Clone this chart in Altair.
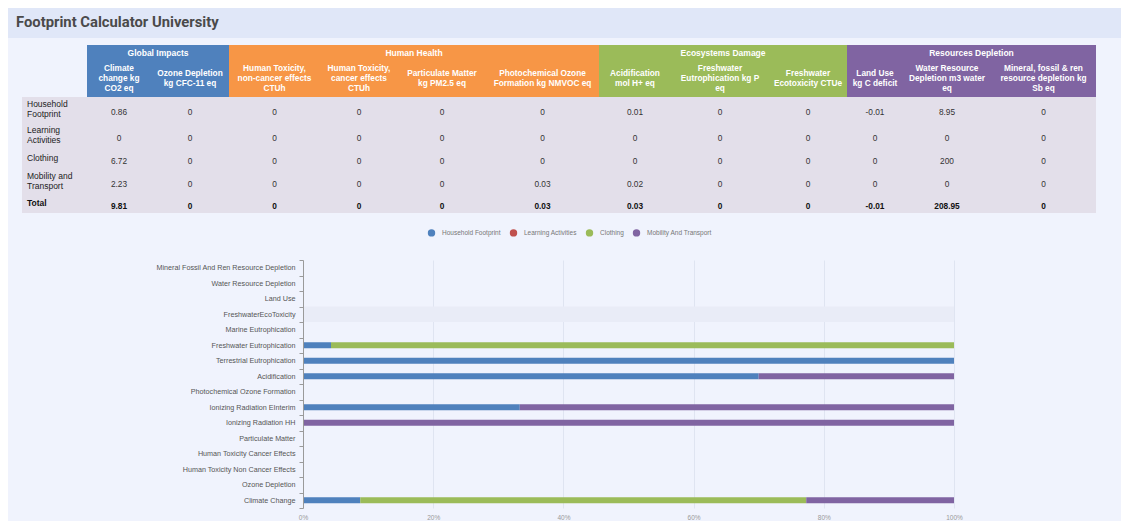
import altair as alt
import pandas as pd

# ---------------- data ----------------
title_text = "Footprint Calculator University"

groups = ["Global Impacts", "Human Health", "Ecosystems Damage", "Resources Depletion"]
group_spans = [2, 4, 3, 3]
group_colors = ["#4f81bd", "#f79646", "#9bbb59", "#8064a2"]

indicators = [
    "Climate\nchange kg\nCO2 eq",
    "Ozone Depletion\nkg CFC-11 eq",
    "Human Toxicity,\nnon-cancer effects\nCTUh",
    "Human Toxicity,\ncancer effects\nCTUh",
    "Particulate Matter\nkg PM2.5 eq",
    "Photochemical Ozone\nFormation kg NMVOC eq",
    "Acidification\nmol H+ eq",
    "Freshwater\nEutrophication kg P\neq",
    "Freshwater\nEcotoxicity CTUe",
    "Land Use\nkg C deficit",
    "Water Resource\nDepletion m3 water\neq",
    "Mineral, fossil & ren\nresource depletion kg\nSb eq",
]

row_labels = ["Household\nFootprint", "Learning\nActivities", "Clothing", "Mobility and\nTransport", "Total"]

household = [0.86, 0, 0, 0, 0, 0, 0.01, 0, 0, -0.01, 8.95, 0]
learning = [0, 0, 0, 0, 0, 0, 0, 0, 0, 0, 0, 0]
clothing = [6.72, 0, 0, 0, 0, 0, 0, 0, 0, 0, 200, 0]
mobility = [2.23, 0, 0, 0, 0, 0.03, 0.02, 0, 0, 0, 0, 0]
total = [9.81, 0, 0, 0, 0, 0.03, 0.03, 0, 0, -0.01, 208.95, 0]
table_rows = [household, learning, clothing, mobility, total]

impacts = [
    "Mineral Fossil And Ren Resource Depletion",
    "Water Resource Depletion",
    "Land Use",
    "FreshwaterEcoToxicity",
    "Marine Eutrophication",
    "Freshwater Eutrophication",
    "Terrestrial Eutrophication",
    "Acidification",
    "Photochemical Ozone Formation",
    "Ionizing Radiation EInterim",
    "Ionizing Radiation HH",
    "Particulate Matter",
    "Human Toxicity Cancer Effects",
    "Human Toxicity Non Cancer Effects",
    "Ozone Depletion",
    "Climate Change",
]
legend_names = ["Household Footprint", "Learning Activities", "Clothing", "Mobility And Transport"]
bar_colors = ["#4f81bd", "#c0504d", "#9bbb59", "#8064a2"]
share_household = [0, 0, 0, 0, 0, 4.3, 100, 70, 0, 33.3, 0, 0, 0, 0, 0, 8.8]
share_learning = [0, 0, 0, 0, 0, 0, 0, 0, 0, 0, 0, 0, 0, 0, 0, 0]
share_clothing = [0, 0, 0, 0, 0, 95.7, 0, 0, 0, 0, 0, 0, 0, 0, 0, 68.5]
share_mobility = [0, 0, 0, 0, 0, 0, 0, 30, 0, 66.7, 100, 0, 0, 0, 0, 22.7]
highlighted = ["FreshwaterEcoToxicity"]

# ---------------- layout (page pixels) ----------------
col_widths = [65, 64, 78, 91, 78, 88, 113, 72, 98, 78, 56, 88, 105]
table_left = 22
header_top, header_bottom, table_bottom = 45, 97, 213
group_label_y, indicator_y = 53, 78.5
value_y = [113.3, 139.3, 161.7, 185, 206.7]
label_y = [109.2, 135.2, 157.7, 180.5, 203]
LH = 10  # line height of multi-line cells

edges = [table_left]
for w in col_widths:
    edges.append(edges[-1] + w)
col_x0 = edges[1:-1]
col_x1 = edges[2:]
col_c = [(a + b) / 2 for a, b in zip(col_x0, col_x1)]


def first_line_y(center, text):
    n = text.count("\n") + 1
    return center - (n - 1) * LH / 2


FONT = "Liberation Sans"
X = alt.Scale(domain=[8, 1121], nice=False, zero=False)
Y = alt.Scale(domain=[8, 213], nice=False, zero=False, reverse=True)


def xq(f):
    return alt.X(f, type="quantitative", scale=X, axis=None)


def yq(f):
    return alt.Y(f, type="quantitative", scale=Y, axis=None)


banner_df = pd.DataFrame({"x0": [8], "x1": [1121], "y0": [8], "y1": [38], "xt": [16], "yt": [23], "t": [title_text]})
banner = alt.Chart(banner_df).mark_rect(color="#e0e7f8").encode(x=xq("x0"), x2="x1", y=yq("y0"), y2="y1")
title = alt.Chart(banner_df).mark_text(
    align="left", baseline="middle", font="Roboto", fontSize=14.8, fontWeight="bold", color="#4a4a4a"
).encode(x=xq("xt"), y=yq("yt"), text="t:N")

body_df = pd.DataFrame({"x0": [table_left], "x1": [edges[-1]], "y0": [header_bottom], "y1": [table_bottom]})
body = alt.Chart(body_df).mark_rect(color="#e3dfea").encode(x=xq("x0"), x2="x1", y=yq("y0"), y2="y1")

g_rows = []
i = 0
for g, span, c in zip(groups, group_spans, group_colors):
    g_rows.append({"g": g, "c": c, "x0": col_x0[i], "x1": col_x1[i + span - 1],
                   "y0": header_top, "y1": header_bottom, "yl": group_label_y})
    i += span
g_df = pd.DataFrame(g_rows)
g_df["xc"] = (g_df["x0"] + g_df["x1"]) / 2
group_rects = alt.Chart(g_df).mark_rect().encode(
    x=xq("x0"), x2="x1", y=yq("y0"), y2="y1", color=alt.Color("c:N", scale=None)
)
group_text = alt.Chart(g_df).mark_text(
    font=FONT, fontSize=8.5, fontWeight="bold", color="white", baseline="middle"
).encode(x=xq("xc"), y=yq("yl"), text="g:N")

ind_df = pd.DataFrame({"t": indicators, "xc": col_c,
                       "yc": [first_line_y(indicator_y, t) for t in indicators]})
ind_text = alt.Chart(ind_df).mark_text(
    font=FONT, fontSize=8.3, fontWeight="bold", color="white", baseline="middle", lineBreak="\n", lineHeight=LH
).encode(x=xq("xc"), y=yq("yc"), text="t:N")

lab_df = pd.DataFrame({"t": row_labels, "x": [table_left + 5] * 5,
                       "y": [first_line_y(c, t) for c, t in zip(label_y, row_labels)],
                       "w": ["normal"] * 4 + ["bold"]})
row_text = alt.Chart(lab_df[lab_df.w == "normal"]).mark_text(
    font=FONT, fontSize=8.5, color="#222", align="left", baseline="middle", lineBreak="\n", lineHeight=LH
).encode(x=xq("x"), y=yq("y"), text="t:N")
row_text_b = alt.Chart(lab_df[lab_df.w == "bold"]).mark_text(
    font=FONT, fontSize=8.5, fontWeight="bold", color="#111", align="left", baseline="middle"
).encode(x=xq("x"), y=yq("y"), text="t:N")

val_rows = []
for r, vals in enumerate(table_rows):
    for cidx, v in enumerate(vals):
        val_rows.append({"r": r, "v": f"{v:g}", "x": col_c[cidx], "y": value_y[r]})
val_df = pd.DataFrame(val_rows)
val_text = alt.Chart(val_df[val_df.r < 4]).mark_text(
    font=FONT, fontSize=8.3, color="#333", baseline="middle"
).encode(x=xq("x"), y=yq("y"), text="v:N")
val_text_b = alt.Chart(val_df[val_df.r == 4]).mark_text(
    font=FONT, fontSize=8.3, fontWeight="bold", color="#111", baseline="middle"
).encode(x=xq("x"), y=yq("y"), text="v:N")

top = alt.layer(
    banner, title, body, group_rects, group_text, ind_text, row_text, row_text_b, val_text, val_text_b
).properties(width=1113, height=205)

# ---------------- bar chart ----------------
bar_rows = []
for j, imp in enumerate(impacts):
    for k, (name, series) in enumerate(zip(legend_names, [share_household, share_learning, share_clothing, share_mobility])):
        if series[j] > 0:
            bar_rows.append({"impact": imp, "source": name, "value": series[j], "k": k})
bar_df = pd.DataFrame(bar_rows)

xs = alt.Scale(domain=[0, 1], range=[295, 946], nice=False, zero=False)
ys = alt.Scale(domain=impacts, paddingInner=0, paddingOuter=0)
x_axis = alt.Axis(
    format="%", values=[0, 0.2, 0.4, 0.6, 0.8, 1.0], grid=True, gridColor="#dfe4f1", domain=False,
    ticks=False, labelFlush=False, labelFont=FONT, labelFontSize=6.5, labelColor="#999", labelPadding=6,
    title=None,
)
y_axis = alt.Axis(
    offset=-295, tickBand="extent", labelFont=FONT, labelFontSize=7.2, labelColor="#555",
    domainColor="#9a9a9a", tickColor="#9a9a9a", tickSize=4, labelPadding=4, labelLimit=400, title=None, grid=False,
)

hl = alt.Chart(pd.DataFrame({"impact": highlighted})).mark_rect(color="#e9ecf7").encode(
    y=alt.Y("impact:N", scale=ys, axis=y_axis, title=None),
    x=alt.X(datum=0, type="quantitative", scale=xs, axis=x_axis, title=None),
    x2=alt.X2(datum=1),
)
bars = alt.Chart(bar_df).mark_bar(size=6).encode(
    y=alt.Y("impact:N", scale=ys, axis=y_axis, title=None),
    x=alt.X("value:Q", stack="normalize", scale=xs, axis=x_axis, title=None),
    color=alt.Color(
        "source:N",
        scale=alt.Scale(domain=legend_names, range=bar_colors),
        legend=alt.Legend(
            orient="none", legendX=419, legendY=-32, direction="horizontal", title=None,
            symbolType="circle", symbolSize=55, labelFont=FONT, labelFontSize=6.5, labelColor="#777",
            labelOffset=6, columnPadding=8, padding=0,
        ),
    ),
    order=alt.Order("k:Q", sort="ascending"),
)
bottom = alt.layer(hl, bars).properties(width=1113, height=248)

chart = (
    alt.vconcat(top, bottom, spacing=15)
    .resolve_scale(color="independent")
    .resolve_legend(color="independent")
    .properties(padding=0, background="#f0f3fd")
    .configure_view(stroke=None)
)
chart.save("out.html", embed_options={"renderer": "svg", "actions": False})
